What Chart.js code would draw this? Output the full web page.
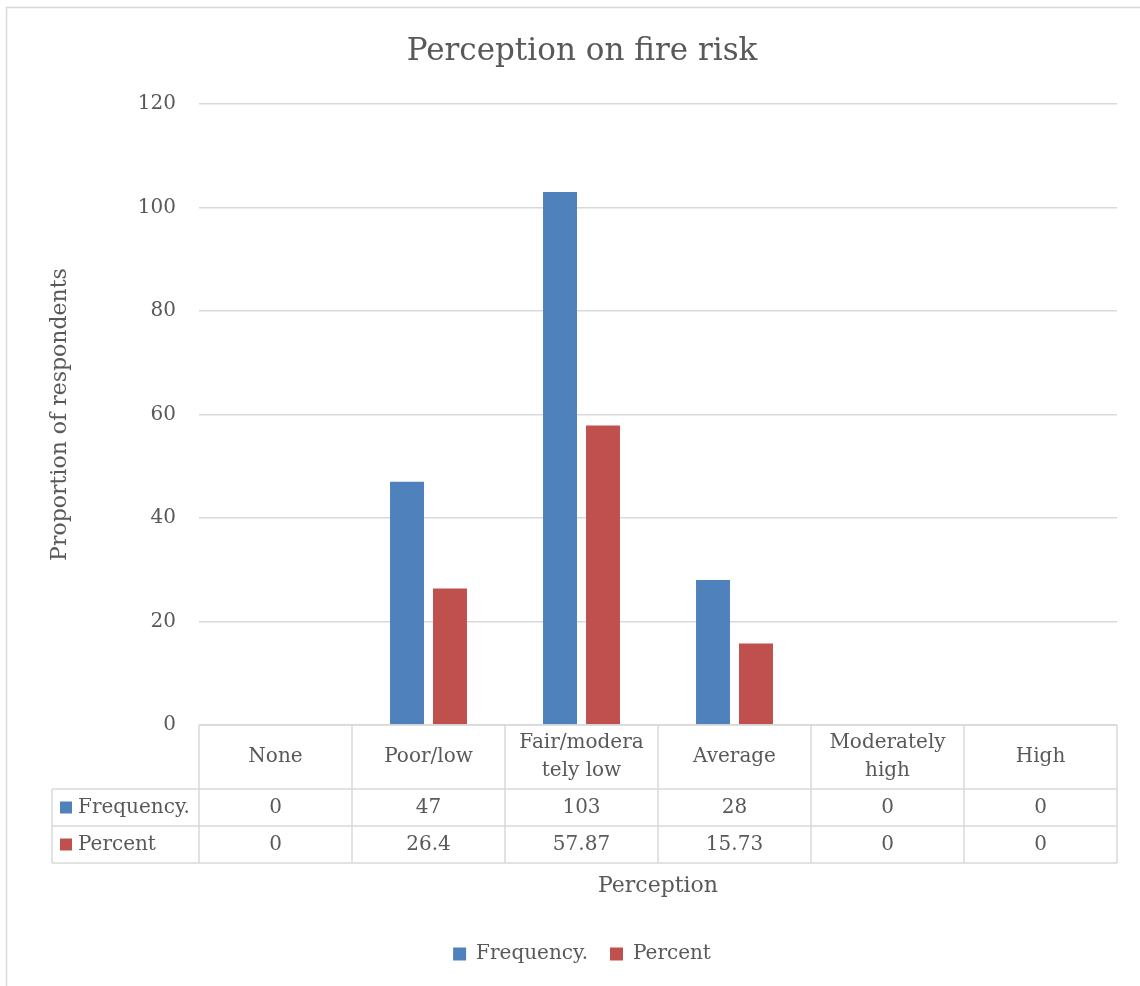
<!DOCTYPE html>
<html>
<head>
<meta charset="utf-8">
<script src="https://cdn.jsdelivr.net/npm/chart.js@4/dist/chart.umd.min.js"></script>
<style>
  html, body { margin: 0; padding: 0; background: #ffffff; }
  #wrap { width: 1140px; height: 986px; }
</style>
</head>
<body>
<div id="wrap"><canvas id="c" width="1140" height="986"></canvas></div>
<script>
// Perception categories (header lines of the data table)
const categories = [["None"], ["Poor/low"], ["Fair/modera", "tely low"], ["Average"], ["Moderately", "high"], ["High"]];
const seriesNames = ["Frequency.", "Percent"];
const frequency = [0, 47, 103, 28, 0, 0];
const percent = [0, 26.4, 57.87, 15.73, 0, 0];
const yTicks = [0, 20, 40, 60, 80, 100, 120];

const FONT = "'DejaVu Serif', 'Liberation Serif', serif";
const TEXT = "#595959";
const LINE = "#d9d9d9";
const BLUE = "#4F81BD";
const RED = "#C0504D";

// Outer frame of the chart
const framePlugin = {
  id: "frame",
  beforeDraw(chart) {
    const ctx = chart.ctx;
    ctx.save();
    ctx.fillStyle = "#ffffff";
    ctx.fillRect(0, 0, chart.width, chart.height);
    ctx.strokeStyle = LINE;
    ctx.lineWidth = 1.5;
    ctx.strokeRect(6.5, 7.5, chart.width + 20, chart.height + 20);
    ctx.restore();
  }
};

// Data table under the x axis, laid out on the category scale
const tablePlugin = {
  id: "dataTable",
  afterDraw(chart) {
    const ctx = chart.ctx;
    const x = chart.scales.x;
    const area = chart.chartArea;
    const n = categories.length;
    const step = (area.right - area.left) / n;
    const top = area.bottom;
    const headH = 64, rowH = 37;
    const r1 = top + headH, r2 = r1 + rowH, r3 = r2 + rowH;
    const legLeft = 52;

    ctx.save();
    ctx.strokeStyle = LINE;
    ctx.lineWidth = 1.5;
    ctx.beginPath();
    // horizontal rules
    ctx.moveTo(area.left, top); ctx.lineTo(area.right, top);
    [r1, r2, r3].forEach(y => { ctx.moveTo(legLeft, y); ctx.lineTo(area.right, y); });
    // vertical rules
    for (let i = 0; i <= n; i++) {
      const vx = area.left + i * step;
      ctx.moveTo(vx, top); ctx.lineTo(vx, r3);
    }
    ctx.moveTo(legLeft, r1); ctx.lineTo(legLeft, r3);
    ctx.stroke();

    ctx.fillStyle = TEXT;
    ctx.font = "20px " + FONT;
    ctx.textAlign = "center";
    ctx.textBaseline = "middle";
    categories.forEach((lines, i) => {
      const cx = x.getPixelForValue(i);
      const cy = top + headH / 2;
      const lh = 28;
      lines.forEach((t, k) => {
        ctx.fillText(t, cx, cy + (k - (lines.length - 1) / 2) * lh);
      });
      ctx.fillText(String(frequency[i]), cx, r1 + rowH / 2);
      ctx.fillText(String(percent[i]), cx, r2 + rowH / 2);
    });

    // series keys in the first column
    const keys = [[BLUE, seriesNames[0], r1], [RED, seriesNames[1], r2]];
    ctx.textAlign = "left";
    keys.forEach(([col, name, y]) => {
      ctx.fillStyle = col;
      ctx.fillRect(60, y + rowH / 2 - 6, 12, 12);
      ctx.fillStyle = TEXT;
      ctx.fillText(name, 78, y + rowH / 2);
    });
    ctx.restore();
  }
};

new Chart(document.getElementById("c"), {
  type: "bar",
  data: {
    labels: categories.map(l => l.join("")),
    datasets: [
      { label: seriesNames[0], data: frequency, backgroundColor: BLUE, borderWidth: 0 },
      { label: seriesNames[1], data: percent, backgroundColor: RED, borderWidth: 0 }
    ]
  },
  options: {
    responsive: false,
    animation: false,
    devicePixelRatio: 1,
    categoryPercentage: 0.562,
    barPercentage: 0.79,
    layout: { padding: { left: 47, right: 23, top: 0, bottom: 12 } },
    plugins: {
      title: {
        display: true,
        text: "Perception on fire risk",
        color: TEXT,
        font: { family: FONT, size: 31, weight: "normal" },
        padding: { top: 33, bottom: 33.8 }
      },
      legend: {
        position: "bottom",
        labels: {
          color: TEXT,
          font: { family: FONT, size: 20 },
          boxWidth: 13,
          boxHeight: 13,
          padding: 22
        }
      },
      tooltip: { enabled: false }
    },
    scales: {
      x: {
        grid: { display: false },
        border: { display: false },
        ticks: { display: false },
        title: {
          display: true,
          text: "Perception",
          color: TEXT,
          font: { family: FONT, size: 22 },
          padding: { top: 0, bottom: 23 }
        },
        afterFit(s) { s.height = 197; }
      },
      y: {
        min: 0,
        max: 120,
        afterBuildTicks(s) { s.ticks = yTicks.map(v => ({ value: v })); },
        grid: { color: LINE, lineWidth: 1.5, drawTicks: false },
        border: { display: false },
        ticks: {
          color: TEXT,
          font: { family: FONT, size: 20 },
          padding: 23
        },
        title: {
          display: true,
          text: "Proportion of respondents",
          color: TEXT,
          font: { family: FONT, size: 22 },
          padding: 0
        },
        afterFit(s) { s.width = 152; }
      }
    }
  },
  plugins: [framePlugin, tablePlugin]
});
</script>
</body>
</html>
